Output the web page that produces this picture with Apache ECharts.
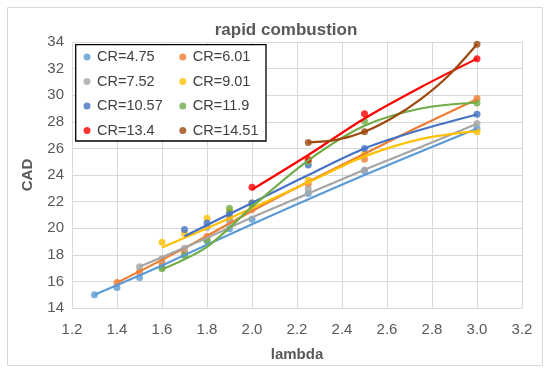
<!DOCTYPE html>
<html>
<head>
<meta charset="utf-8">
<script src="https://cdn.jsdelivr.net/npm/echarts@6/dist/echarts.min.js"></script>
<style>html,body{margin:0;padding:0;background:#fff;}#c{width:550px;height:373px;}</style>
</head>
<body>
<div id="c"></div>
<script>
// ---- data ----
const names = ['CR=4.75','CR=6.01','CR=7.52','CR=9.01','CR=10.57','CR=11.9','CR=13.4','CR=14.51'];
const colors = ['#5B9BD5','#ED7D31','#A5A5A5','#FFC000','#4472C4','#70AD47','#FF0000','#9E480E'];

// measured points (lambda, CAD)
const lam475 = [1.3,1.4,1.5,1.6,1.7,1.8,1.9,2.0,2.25,2.5,3.0];
const cad475 = [15.0,15.55,16.3,17.1,18.0,19.05,19.95,20.67,22.6,24.3,27.5];
const lam601 = [1.4,1.5,1.6,1.7,1.8,1.9,2.0,2.25,2.5,3.0];
const cad601 = [15.92,16.7,17.4,18.2,19.37,20.75,21.4,23.3,25.18,29.75];
const lam752 = [1.5,1.6,1.7,1.8,1.9,2.0,2.25,2.5,3.0];
const cad752 = [17.1,17.7,18.5,20.05,20.5,21.5,22.93,24.37,27.88];
const lam901 = [1.6,1.7,1.8,1.9,2.0,2.25,2.5,3.0];
const cad901 = [18.95,19.6,20.75,21.3,21.9,23.6,25.6,27.25];
const lam1057 = [1.7,1.8,1.9,2.0,2.25,2.5,3.0];
const cad1057 = [19.9,20.4,21.1,21.9,24.75,26.0,28.57];
const lam119 = [1.6,1.7,1.8,1.9,2.0,2.25,2.5,3.0];
const cad119 = [16.95,17.95,19.1,21.5,21.75,25.0,28.05,29.42];
const lam134 = [2.0,2.25,2.5,3.0];
const cad134 = [23.08,25.17,28.6,32.75];
const lam1451 = [2.25,2.5,3.0];
const cad1451 = [26.45,27.25,33.83];

// trend lines (lambda, CAD)
const tLam475 = [1.3,1.6,2.0,2.5,3.0];
const tCad475 = [15.0,17.2,20.3,24.0,27.5];
const tLam601 = [1.4,1.7,2.0,2.25,2.5,2.75,3.0];
const tCad601 = [15.9,18.5,21.3,23.5,25.6,27.7,29.7];
const tLam752 = [1.5,1.75,2.0,2.25,2.5,2.75,3.0];
const tCad752 = [17.1,18.9,20.8,22.6,24.4,26.1,27.85];
const tLam901 = [1.6,1.8,2.0,2.25,2.5,2.75,3.0];
const tCad901 = [18.55,20.0,21.5,23.45,25.4,26.7,27.3];
const tLam1057 = [1.7,2.0,2.25,2.5,2.75,3.0];
const tCad1057 = [19.4,21.9,24.0,26.0,27.4,28.55];
const tLam119 = [1.6,1.8,2.0,2.25,2.5,2.75,3.0];
const tCad119 = [16.9,18.6,21.6,25.1,27.7,29.0,29.45];
const tLam134 = [2.0,2.25,2.5,2.75,3.0];
const tCad134 = [22.9,25.5,28.25,30.6,32.75];
const tLam1451 = [2.25,2.375,2.5,2.625,2.75,2.875,3.0];
const tCad1451 = [26.45,26.64,27.25,28.3,29.7,31.5,33.83];

const xTicks = ['1.2','1.4','1.6','1.8','2.0','2.2','2.4','2.6','2.8','3.0','3.2'];
const yTicks = [14,16,18,20,22,24,26,28,30,32,34];

const points = [[lam475,cad475],[lam601,cad601],[lam752,cad752],[lam901,cad901],[lam1057,cad1057],[lam119,cad119],[lam134,cad134],[lam1451,cad1451]];
const trends = [[tLam475,tCad475],[tLam601,tCad601],[tLam752,tCad752],[tLam901,tCad901],[tLam1057,tCad1057],[tLam119,tCad119],[tLam134,tCad134],[tLam1451,tCad1451]];
const zip = (a,b) => a.map((v,i) => [v,b[i]]);

const series = [];
names.forEach((n,i) => {
  series.push({
    name: n, type: 'scatter', data: zip(points[i][0], points[i][1]),
    symbol: 'circle', symbolSize: 7, itemStyle: {color: colors[i]}, z: 2
  });
});
names.forEach((n,i) => {
  series.push({
    name: 'trend ' + n, type: 'line', data: zip(trends[i][0], trends[i][1]),
    smooth: 0.3, showSymbol: false, symbol: 'none',
    lineStyle: {color: colors[i], width: 2.2}, z: 3, silent: true
  });
});

const font = 'Liberation Sans, Arial, sans-serif';
const legendBase = {
  orient: 'vertical', top: 49.5, padding: 0,
  itemWidth: 10, itemHeight: 7, itemGap: 9.5,
  icon: 'circle',
  textStyle: {fontFamily: font, fontSize: 14.5, color: '#404040'},
  z: 11
};
const chart = echarts.init(document.getElementById('c'), null, {renderer: 'canvas'});
chart.setOption({
  backgroundColor: '#fff',
  animation: false,
  title: {
    text: 'rapid combustion', left: 281, top: 17, textAlign: 'center',
    textStyle: {fontFamily: font, fontSize: 17, fontWeight: 'bold', color: '#595959'}
  },
  graphic: [{
    type: 'rect', shape: {x: 7.5, y: 7.5, width: 535, height: 358},
    style: {fill: 'none', stroke: '#d9d9d9', lineWidth: 1}, silent: true, z: -10
  }, {
    type: 'rect', shape: {x: 75.7, y: 44.7, width: 190.3, height: 96.3},
    style: {fill: '#fff', stroke: '#000', lineWidth: 1.3}, silent: true, z: 10
  }],
  legend: [
    Object.assign({}, legendBase, {data: ['CR=4.75','CR=7.52','CR=10.57','CR=13.4'], left: 83.5}),
    Object.assign({}, legendBase, {data: ['CR=6.01','CR=9.01','CR=11.9','CR=14.51'], left: 179.3})
  ],
  grid: {left: 72, right: 28, top: 42, bottom: 65},
  xAxis: {
    type: 'value', min: 1.2, max: 3.2, interval: 0.2,
    name: 'lambda', nameLocation: 'middle', nameGap: 39,
    nameTextStyle: {fontFamily: font, fontSize: 15, fontWeight: 'bold', color: '#595959'},
    axisLine: {show: true, lineStyle: {color: '#d9d9d9', width: 1}},
    axisTick: {show: false},
    axisLabel: {fontFamily: font, fontSize: 15, color: '#595959', margin: 14,
      formatter: v => { const s = v.toFixed(1); return xTicks.indexOf(s) >= 0 ? s : ''; }},
    splitLine: {show: true, lineStyle: {color: '#d9d9d9', width: 1}}
  },
  yAxis: {
    type: 'value', min: 14, max: 34, interval: 2,
    name: 'CAD', nameLocation: 'middle', nameGap: 37,
    nameTextStyle: {fontFamily: font, fontSize: 15, fontWeight: 'bold', color: '#595959'},
    axisLine: {show: true, lineStyle: {color: '#d9d9d9', width: 1}},
    axisTick: {show: false},
    axisLabel: {fontFamily: font, fontSize: 15, color: '#595959', margin: 8,
      formatter: v => yTicks.indexOf(Math.round(v)) >= 0 ? String(Math.round(v)) : ''},
    splitLine: {show: true, lineStyle: {color: '#d9d9d9', width: 1}}
  },
  series: series
});
</script>
</body>
</html>
